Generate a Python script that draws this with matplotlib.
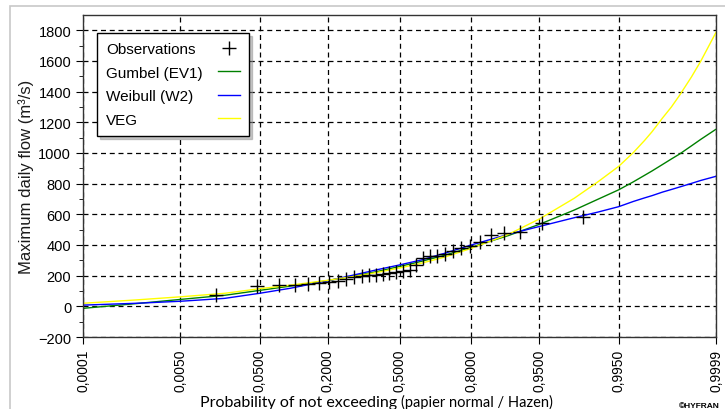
"""Courbes de fréquence des débits maximums journaliers (papier normal / Hazen)."""

from statistics import NormalDist
import numpy as np
import matplotlib
matplotlib.use("Agg")
import matplotlib.pyplot as plt
from matplotlib.patches import Rectangle

plt.rcParams["font.family"] = ["Liberation Sans", "DejaVu Sans"]

# ── données ──
obs_values = [72, 130, 137, 137, 143, 150, 157, 163, 176, 189, 196, 202, 202, 209,
              215, 222, 228, 235, 267, 313, 326, 326, 339, 359, 378, 391, 417, 463,
              476, 483, 541, 580]

curve_prob = [0.0001, 0.001, 0.005, 0.02, 0.05, 0.1, 0.2, 0.3, 0.4, 0.5, 0.6, 0.7,
              0.8, 0.9, 0.95, 0.98, 0.99, 0.995, 0.997, 0.998, 0.9985, 0.999,
              0.9993, 0.9995, 0.9997, 0.9998, 0.9999]
gumbel_q = [-13, 18, 45, 72, 104, 132, 168, 199, 228, 260, 293, 332, 385, 462, 535,
            628, 697, 760, 812, 854, 883, 925, 961, 993, 1047, 1089, 1155]
weibull_q = [8, 20, 33, 52, 85, 118, 167, 206, 240, 270, 302, 345, 400, 470, 521,
             578, 614, 650, 684, 707, 722, 745, 762, 778, 802, 821, 848]
veg_q = [20, 42, 62, 85, 115, 138, 170, 196, 222, 250, 281, 320, 378, 470, 570,
         705, 810, 913, 1003, 1081, 1139, 1228, 1300, 1376, 1497, 1599, 1787]

tick_prob = [0.0001, 0.005, 0.05, 0.2, 0.5, 0.8, 0.95, 0.995, 0.9999]
tick_labels = ["0,0001", "0,0050", "0,0500", "0,2000", "0,5000", "0,8000",
               "0,9500", "0,9950", "0,9999"]

nd = NormalDist()


def z(p):
    return np.array([nd.inv_cdf(v) for v in np.atleast_1d(p)])


n = len(obs_values)
hazen = [(i - 0.5) / n for i in range(1, n + 1)]

fig = plt.figure(figsize=(7.25, 4.1), dpi=100)
ax = fig.add_axes([0.1145, 0.1756, 0.8731, 0.7854])

# cadre gris clair autour de la figure
fig.patches.append(Rectangle((10 / 725, -0.01), 1.0, 1 - 7 / 410 + 0.01,
                             transform=fig.transFigure, fill=False,
                             edgecolor="#c8c8c8", linewidth=1.2))

ax.plot(z(hazen), obs_values, linestyle="none", marker="+", color="black",
        markersize=10, markeredgewidth=1.0, label="Observations", zorder=5)
ax.plot(z(curve_prob), gumbel_q, color="#008000", linewidth=1.0, label="Gumbel (EV1)")
ax.plot(z(curve_prob), weibull_q, color="#0000ff", linewidth=1.0, label="Weibull (W2)")
ax.plot(z(curve_prob), veg_q, color="#ffff00", linewidth=1.0, label="VEG")

ax.set_xlim(z(0.0001)[0], z(0.9999)[0])
ax.set_ylim(-200, 1900)
ax.set_xticks(z(tick_prob))
ax.set_xticklabels(tick_labels, rotation=90, fontsize=10)
ax.set_yticks(np.arange(-200, 1801, 200))
ax.set_yticks(np.arange(-200, 1801, 100), minor=True)
ax.tick_params(axis="y", labelsize=10.5, direction="out", length=5)
ax.tick_params(axis="y", which="minor", direction="out", length=3)
ax.tick_params(axis="x", direction="out", length=5)
ax.grid(True, which="major", color="black", linestyle=(0, (4, 3)), linewidth=0.9)

for s in ax.spines.values():
    s.set_linewidth(1.0)
    s.set_color("#333333")

ax.set_ylabel("Maximum daily flow (m³/s)", fontsize=12, color="#1a1a1a", labelpad=3)
fig.text(397 / 725, 3 / 410, "Probability of not exceeding", fontsize=11.5,
         family=["Lato", "DejaVu Sans"], ha="right", va="baseline")
fig.text(401 / 725, 3 / 410, "(papier normal / Hazen)", fontsize=10.5,
         family=["Lato", "DejaVu Sans"], ha="left", va="baseline")
fig.text(720 / 725, 0.0, "©HYFRAN", fontsize=6, fontweight="bold", ha="right",
         va="bottom")

leg = ax.legend(loc="upper left", bbox_to_anchor=(0.022, 0.944), markerfirst=False,
                fancybox=False, shadow={"color": "#909090"}, framealpha=1,
                edgecolor="black", fontsize=11, handlelength=1.45,
                handletextpad=1.0, labelspacing=0.62, borderpad=0.6,
                borderaxespad=0)
leg.get_frame().set_linewidth(1.0)

# libellés alignés à gauche, symboles alignés à droite
fig.canvas.draw()
renderer = fig.canvas.get_renderer()
items = leg._legend_handle_box.get_children()[0].get_children()
widths = [it.get_children()[0].get_window_extent(renderer).width for it in items]
wmax = max(widths)
for it, w in zip(items, widths):
    it.sep = it.sep + (wmax - w) * 72 / fig.dpi

fig.savefig("out.png", dpi=100)
